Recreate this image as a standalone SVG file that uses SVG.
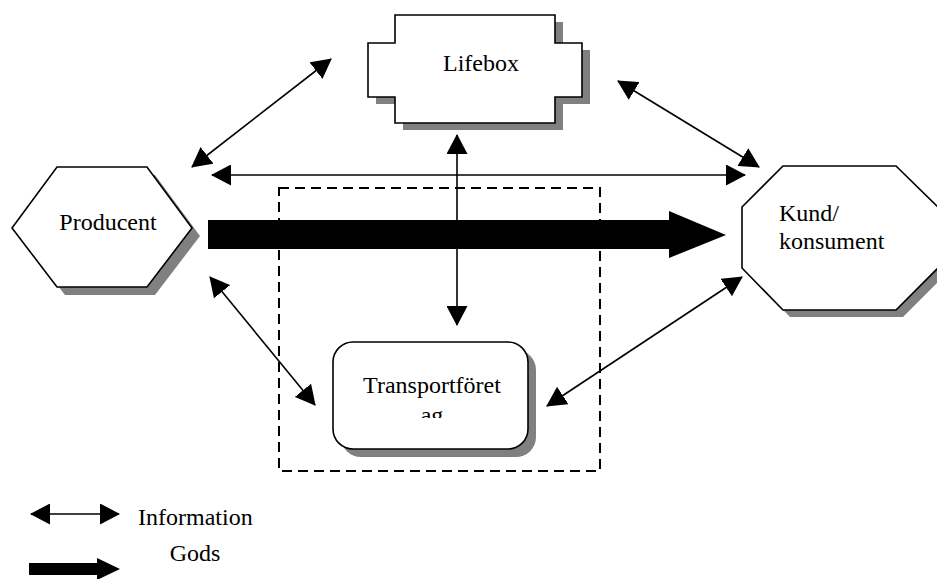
<svg xmlns="http://www.w3.org/2000/svg" width="937" height="579" viewBox="0 0 937 579">
<style>
.shape{fill:#fff;stroke:#000;stroke-width:1.6;stroke-linejoin:miter}
.shadow{fill:#808080;stroke:none}
.lbl{font-family:"Liberation Serif","Times New Roman",serif;font-size:24px;fill:#000}
.info{stroke:#000;stroke-width:1.6;fill:none;marker-start:url(#ah);marker-end:url(#ah)}
.gods{fill:#000;stroke:none}
</style>
<defs>
<marker id="ah" viewBox="0 0 20 21" refX="19" refY="10.5" markerWidth="20" markerHeight="21" markerUnits="userSpaceOnUse" orient="auto-start-reverse">
<path d="M0,0 L20,10.5 L0,21 z" fill="#000"/>
</marker>
<clipPath id="tclip"><rect x="333" y="342" width="195" height="76"/></clipPath>
</defs>
<rect width="937" height="579" fill="#fff"/>

<g id="lifebox">
<polygon class="shadow" transform="translate(8,7)" points="395,15 555,15 555,43 582,43 582,97 555,97 555,123 395,123 395,97 368,97 368,43 395,43"/>
<polygon class="shape" points="395,15 555,15 555,43 582,43 582,97 555,97 555,123 395,123 395,97 368,97 368,43 395,43"/>
<text class="lbl" x="481" y="71" text-anchor="middle">Lifebox</text>
</g>

<g id="producent">
<polygon class="shadow" transform="translate(8,8)" points="12,228 57,167 147,167 192,228 147,287 57,287"/>
<polygon class="shape" points="12,228 57,167 147,167 192,228 147,287 57,287"/>
<text class="lbl" x="108" y="230" text-anchor="middle">Producent</text>
</g>

<g id="kund">
<polygon class="shadow" transform="translate(7,7)" points="783,166 896,166 938,207 938,268 896,310 783,310 742,268 742,207"/>
<polygon class="shape" points="783,166 896,166 938,207 938,268 896,310 783,310 742,268 742,207"/>
<text class="lbl" x="779" y="221">Kund/</text>
<text class="lbl" x="779" y="249">konsument</text>
</g>

<g id="transport">
<rect class="shadow" x="341" y="350" width="195" height="107" rx="20" ry="20"/>
<rect class="shape" x="333" y="342" width="195" height="107" rx="20" ry="20"/>
<text class="lbl" x="432" y="393" text-anchor="middle">Transportföret</text>
<text class="lbl" x="432" y="423" text-anchor="middle" clip-path="url(#tclip)">ag</text>
</g>

<g id="boundary">
<rect x="279" y="188" width="321" height="283" fill="none" stroke="#000" stroke-width="2" stroke-dasharray="10,6"/>
</g>

<g id="connectors">
<line class="info" x1="192" y1="167" x2="331" y2="59"/>
<line class="info" x1="212" y1="175" x2="745" y2="175"/>
<line class="info" x1="618" y1="81" x2="759" y2="167"/>
<line class="info" x1="457" y1="135" x2="457" y2="325"/>
<line class="info" x1="210" y1="277" x2="315" y2="405"/>
<line class="info" x1="547" y1="406" x2="742" y2="277"/>
<polygon class="gods" points="208,220 669,220 669,211 726,235 669,258 669,249 208,249"/>
</g>

<g id="legend">
<line class="info" x1="31" y1="514" x2="119" y2="514"/>
<text class="lbl" x="138" y="525">Information</text>
<polygon class="gods" points="29,563 97,563 97,558 120,569 97,580 97,575 29,575"/>
<text class="lbl" x="195" y="561" text-anchor="middle">Gods</text>
</g>
</svg>
